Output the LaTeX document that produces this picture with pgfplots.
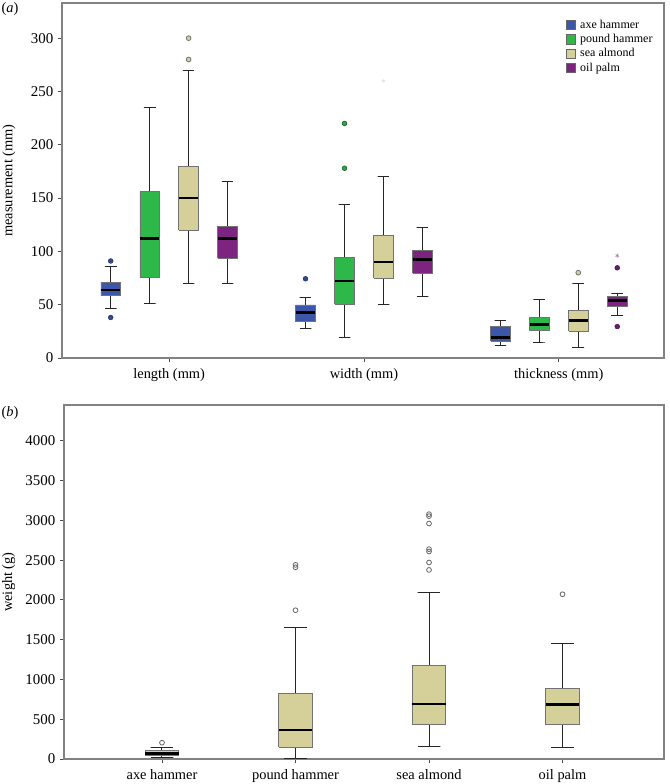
\documentclass[border=0pt]{standalone}
\usepackage{fontspec}
\setmainfont{Liberation Serif}
\usepackage{pgfplots}
\pgfplotsset{compat=1.18}
\definecolor{cBlue}{RGB}{60,87,168}
\definecolor{cGreen}{RGB}{46,184,74}
\definecolor{cSand}{RGB}{213,208,154}
\definecolor{cPurple}{RGB}{124,36,128}
\definecolor{frameC}{RGB}{130,130,130}
% whiskers: #1 x, #2 cap left, #3 cap right, #4 lower whisker, #5 q1, #6 q3, #7 upper whisker
\newcommand{\wk}[7]{%
\addplot[forget plot, draw=black!85, line width=0.75pt] coordinates {(#2,#4) (#3,#4) (#1,#4) (#1,#5)};
\addplot[forget plot, draw=black!85, line width=0.75pt] coordinates {(#1,#6) (#1,#7) (#2,#7) (#3,#7)};
}
% box: #1 colour, #2 left, #3 right, #4 q1, #5 q3, #6 median
\newcommand{\bb}[6]{%
\addplot[forget plot, fill=#1, draw=black!55, line width=0.6pt] coordinates {(#2,#4) (#3,#4) (#3,#5) (#2,#5) (#2,#4)};
\addplot[forget plot, draw=black, line width=1.9pt] coordinates {(#2,#6) (#3,#6)};
}
\pgfplotsset{
  myaxis/.style={
    scale only axis,
    axis line style={frameC, line width=0.9pt},
    tick style={black!70, line width=0.7pt},
    tick align=outside,
    major tick length=3pt,
    xtick pos=bottom, ytick pos=left,
    /pgf/number format/assume math mode=true,
    /pgf/number format/1000 sep={},
    tick label style={font=\fontsize{11.2}{13}\selectfont},
    label style={font=\fontsize{10.8}{12}\selectfont},
  },
  sqleg/.style={legend image code/.code={\draw[##1] (0pt,-3.6pt) rectangle (7.4pt,3.6pt);}},
}
\begin{document}
\begin{tikzpicture}
\useasboundingbox (-46.5pt,-319.5pt) rectangle (455.25pt,268.5pt);
\begin{axis}[myaxis,
  at={(0,0)}, anchor=south west,
  width=451.5pt, height=266.25pt,
  xmin=0.45, xmax=3.54, ymin=0, ymax=333,
  xtick={1,2,3}, xticklabels={length (mm), width (mm), thickness (mm)},
  ytick={0,50,100,150,200,250,300},
  ylabel={measurement (mm)},
  ylabel style={at={(axis description cs:-0.088,0.5)}, anchor=center},
  xticklabel style={yshift=-1pt, font=\fontsize{10.8}{12}\selectfont},
  legend style={draw=none, fill=none, at={(0.836,0.958)}, anchor=north west,
    font=\fontsize{9}{10}\selectfont, row sep=0.6pt, inner sep=0pt,
    nodes={inner sep=1.2pt},
    /tikz/every odd column/.append style={column sep=2pt}},
  legend cell align=left,
]
\addlegendimage{sqleg, fill=cBlue, draw=black!60}
\addlegendentry{axe hammer}
\addlegendimage{sqleg, fill=cGreen, draw=black!60}
\addlegendentry{pound hammer}
\addlegendimage{sqleg, fill=cSand, draw=black!60}
\addlegendentry{sea almond}
\addlegendimage{sqleg, fill=cPurple, draw=black!60}
\addlegendentry{oil palm}
% length
\wk{0.7}{0.67}{0.73}{46}{58.3}{71}{85.6}
\bb{cBlue}{0.65}{0.75}{58.3}{71}{63.6}
\wk{0.9}{0.87}{0.93}{51}{75.2}{156}{235.4}
\bb{cGreen}{0.85}{0.95}{75.2}{156}{112}
\wk{1.1}{1.07}{1.13}{70}{120}{180}{270}
\bb{cSand}{1.05}{1.15}{120}{180}{150}
\wk{1.3}{1.27}{1.33}{70.2}{93.7}{123.5}{166}
\bb{cPurple}{1.25}{1.35}{93.7}{123.5}{112}
% width
\wk{1.7}{1.67}{1.73}{27.3}{33.9}{49.8}{56.4}
\bb{cBlue}{1.65}{1.75}{33.9}{49.8}{42.6}
\wk{1.9}{1.87}{1.93}{18.8}{50.5}{94}{143.6}
\bb{cGreen}{1.85}{1.95}{50.5}{94}{72.4}
\wk{2.1}{2.07}{2.13}{50.2}{75}{115}{170.2}
\bb{cSand}{2.05}{2.15}{75}{115}{90}
\wk{2.3}{2.27}{2.33}{58}{79.3}{101}{122}
\bb{cPurple}{2.25}{2.35}{79.3}{101}{92.5}
% thickness
\wk{2.7}{2.67}{2.73}{11.6}{16}{29.2}{35.4}
\bb{cBlue}{2.65}{2.75}{16}{29.2}{19.4}
\wk{2.9}{2.87}{2.93}{15}{25.7}{37.9}{54.9}
\bb{cGreen}{2.85}{2.95}{25.7}{37.9}{31.4}
\wk{3.1}{3.07}{3.13}{9.7}{25.1}{44.8}{70.2}
\bb{cSand}{3.05}{3.15}{25.1}{44.8}{35.1}
\wk{3.3}{3.27}{3.33}{40.1}{48.3}{57.7}{60.8}
\bb{cPurple}{3.25}{3.35}{48.3}{57.7}{53.9}
% outliers
\addplot[forget plot, only marks, mark=*, mark size=1.8pt, mark options={fill=cBlue!85!black, draw=cBlue!60!black, line width=0.4pt}]
  coordinates {(0.7,91) (0.7,38) (1.7,74.3)};
\addplot[forget plot, only marks, mark=*, mark size=1.8pt, mark options={fill=cGreen!90!black, draw=cGreen!50!black, line width=0.4pt}]
  coordinates {(1.9,178) (1.9,220)};
\addplot[forget plot, only marks, mark=*, mark size=1.8pt, mark options={fill=cSand, draw=black!55, line width=0.6pt}]
  coordinates {(1.1,280) (1.1,300) (3.1,80)};
\addplot[forget plot, only marks, mark=*, mark size=1.8pt, mark options={fill=cPurple!85!black, draw=cPurple!60!black, line width=0.4pt}]
  coordinates {(3.3,84.6) (3.3,29.5)};
\addplot[forget plot, only marks, mark=asterisk, mark size=1.5pt, mark options={draw=cSand!60, line width=0.4pt}]
  coordinates {(2.1,260)};
\addplot[forget plot, only marks, mark=asterisk, mark size=1.5pt, mark options={draw=cPurple!60, line width=0.4pt}]
  coordinates {(3.3,96)};
\end{axis}
\node[anchor=north west, inner sep=0pt, font=\fontsize{10.8}{12}\selectfont] at (-45.5pt,266.5pt) {(\textit{a})};
\begin{axis}[myaxis,
  at={(1.5pt,-300.75pt)}, anchor=south west,
  width=450pt, height=265.5pt,
  xmin=0.266, xmax=4.76, ymin=0, ymax=4450,
  xtick={1,2,3,4}, xticklabels={axe hammer, pound hammer, sea almond, oil palm},
  ytick={0,500,1000,1500,2000,2500,3000,3500,4000},
  scaled y ticks=false,
  ylabel={weight (g)},
  ylabel style={at={(axis description cs:-0.092,0.5)}, anchor=center},
  xticklabel style={yshift=-1pt, font=\fontsize{10.8}{12}\selectfont},
]
\wk{1}{0.915}{1.085}{18}{42}{105}{146}
\bb{cSand}{0.875}{1.125}{42}{105}{71}
\wk{2}{1.915}{2.085}{8}{146}{820}{1648}
\bb{cSand}{1.875}{2.125}{146}{820}{364}
\wk{3}{2.915}{3.085}{159}{431}{1180}{2095}
\bb{cSand}{2.875}{3.125}{431}{1180}{690}
\wk{4}{3.915}{4.085}{142}{431}{883}{1456}
\bb{cSand}{3.875}{4.125}{431}{883}{682}
\addplot[forget plot, only marks, mark=o, mark size=1.8pt, mark options={draw=black!60, fill=white, line width=0.6pt}]
  coordinates {(1,205) (2,1870) (2,2410) (2,2440)
  (3,2377) (3,2470) (3,2608) (3,2638) (3,2960) (3,3053) (3,3078) (4,2071)};
\end{axis}
\node[anchor=west, inner sep=0pt, font=\fontsize{10.8}{12}\selectfont] at (-45.5pt,-41.25pt) {(\textit{b})};
\end{tikzpicture}
\end{document}
